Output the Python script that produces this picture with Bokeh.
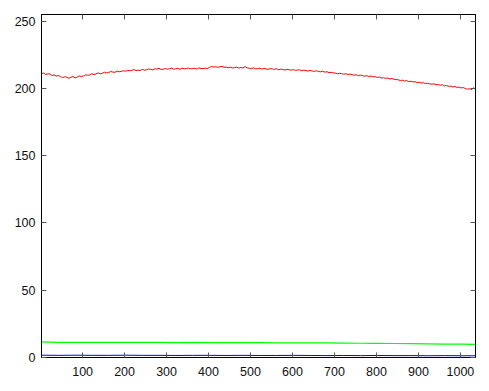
from bokeh.plotting import figure
from bokeh.models import LinearAxis, FixedTicker, CustomJSTickFormatter, Range1d
from bokeh.embed import file_html
from bokeh.resources import INLINE

# sample positions
x_red = list(range(2, 1037, 5))
red = [
    211.0, 211.5, 210.4, 210.8, 210.9, 209.6, 210.1, 209.2, 209.7, 208.9,
    208.1, 208.7, 208.4, 207.6, 208.3, 208.9, 207.9, 208.4, 209.4, 208.8,
    209.3, 210.1, 209.9, 210.0, 211.0, 210.3, 210.9, 211.6, 210.9, 211.3,
    212.1, 211.5, 211.9, 212.6, 212.2, 212.0, 213.0, 212.4, 212.7, 213.2,
    212.8, 213.5, 213.2, 213.4, 214.1, 213.3, 213.6, 213.4, 214.2, 213.6,
    213.9, 214.5, 214.2, 213.8, 214.6, 214.4, 215.0, 214.1, 214.3, 214.8,
    214.4, 214.6, 215.2, 214.3, 214.7, 214.9, 214.2, 215.1, 214.6, 214.8,
    215.2, 214.6, 214.8, 215.0, 214.4, 215.3, 214.9, 214.7, 215.1, 214.8,
    215.6, 216.4, 215.9, 216.2, 215.7, 216.1, 216.5, 215.8, 215.9, 215.4,
    215.8, 215.3, 215.5, 215.9, 215.1, 215.6, 215.2, 216.3, 215.3, 215.0,
    214.9, 215.3, 214.6, 214.8, 215.1, 214.4, 214.9, 214.5, 214.2, 214.8,
    214.6, 214.2, 214.7, 213.9, 214.4, 214.1, 213.7, 214.3, 213.9, 213.6,
    214.0, 213.5, 213.7, 213.9, 213.2, 213.6, 213.4, 212.9, 213.5, 213.0,
    212.7, 213.2, 212.6, 212.4, 212.8, 212.1, 212.5, 211.8, 212.0, 211.6,
    211.5, 210.9, 211.3, 211.1, 210.6, 211.0, 210.4, 210.7, 210.3, 209.9,
    210.2, 209.5, 209.9, 209.6, 209.1, 209.5, 208.9, 209.3, 208.6, 208.8,
    208.2, 208.5, 207.8, 208.0, 207.5, 207.7, 207.1, 207.4, 206.8, 206.6,
    206.5, 205.8, 206.2, 205.5, 205.9, 205.1, 205.4, 204.9, 205.0, 204.4,
    204.7, 204.0, 204.3, 203.6, 203.9, 203.4, 203.2, 203.5, 202.8, 202.9,
    202.4, 202.8, 201.9, 202.2, 201.6, 201.8, 201.1, 201.5, 200.8, 201.0,
    200.4, 200.7, 199.9, 199.5, 199.8, 199.1, 200.9,
]

x_gb = list(range(2, 1037, 40)) + [1036]
green = [11.6, 11.3, 11.2, 11.3, 11.2, 11.3, 11.2, 11.2, 11.1, 11.2,
         11.1, 11.1, 11.0, 11.0, 10.9, 10.9, 10.8, 10.8, 10.7, 10.6,
         10.5, 10.4, 10.3, 10.2, 10.0, 9.9, 9.8]
blue = [1.7, 1.6, 1.7, 1.6, 1.6, 1.7, 1.6, 1.6, 1.5, 1.6,
        1.6, 1.5, 1.6, 1.5, 1.5, 1.6, 1.5, 1.4, 1.5, 1.4,
        1.5, 1.4, 1.4, 1.3, 1.4, 1.3, 1.3]

x_ticks = [100, 200, 300, 400, 500, 600, 700, 800, 900, 1000]
y_ticks = [0, 50, 100, 150, 200, 250]

p = figure(width=485, height=387, output_backend="svg", toolbar_location=None,
           x_range=Range1d(2, 1036), y_range=Range1d(0, 255),
           min_border_left=41, min_border_top=14, min_border_right=10, min_border_bottom=30,
           x_axis_location=None, y_axis_location=None)
p.grid.visible = False
p.outline_line_color = "black"
p.outline_line_width = 1
p.background_fill_color = "white"
p.border_fill_color = "white"

p.line(x_red, red, line_color="#ff0000", line_width=1)
p.line(x_gb, green, line_color="#00ff00", line_width=1.2)
p.line(x_gb, blue, line_color="#0000ff", line_width=1)

blank = CustomJSTickFormatter(code="return '';")

def style(ax, ticks, labels=True):
    ax.ticker = FixedTicker(ticks=ticks)
    ax.axis_line_color = "black"
    ax.major_tick_in = 5
    ax.major_tick_out = 0
    ax.minor_tick_line_color = None
    ax.major_tick_line_color = "#555555"
    ax.major_label_text_font = "Liberation Sans"
    ax.major_label_text_font_size = "12.5px"
    ax.major_label_text_color = "#111111"
    if not labels:
        ax.formatter = blank
        ax.major_label_standoff = 0

bx = LinearAxis(); style(bx, x_ticks); bx.major_label_standoff = 9
p.add_layout(bx, "below")
ly = LinearAxis(); style(ly, y_ticks); ly.major_label_standoff = 6
p.add_layout(ly, "left")
tx = LinearAxis(); style(tx, x_ticks, labels=False)
p.add_layout(tx, "above")
ry = LinearAxis(); style(ry, y_ticks, labels=False)
p.add_layout(ry, "right")

open("out.html", "w").write(file_html(p, INLINE))
